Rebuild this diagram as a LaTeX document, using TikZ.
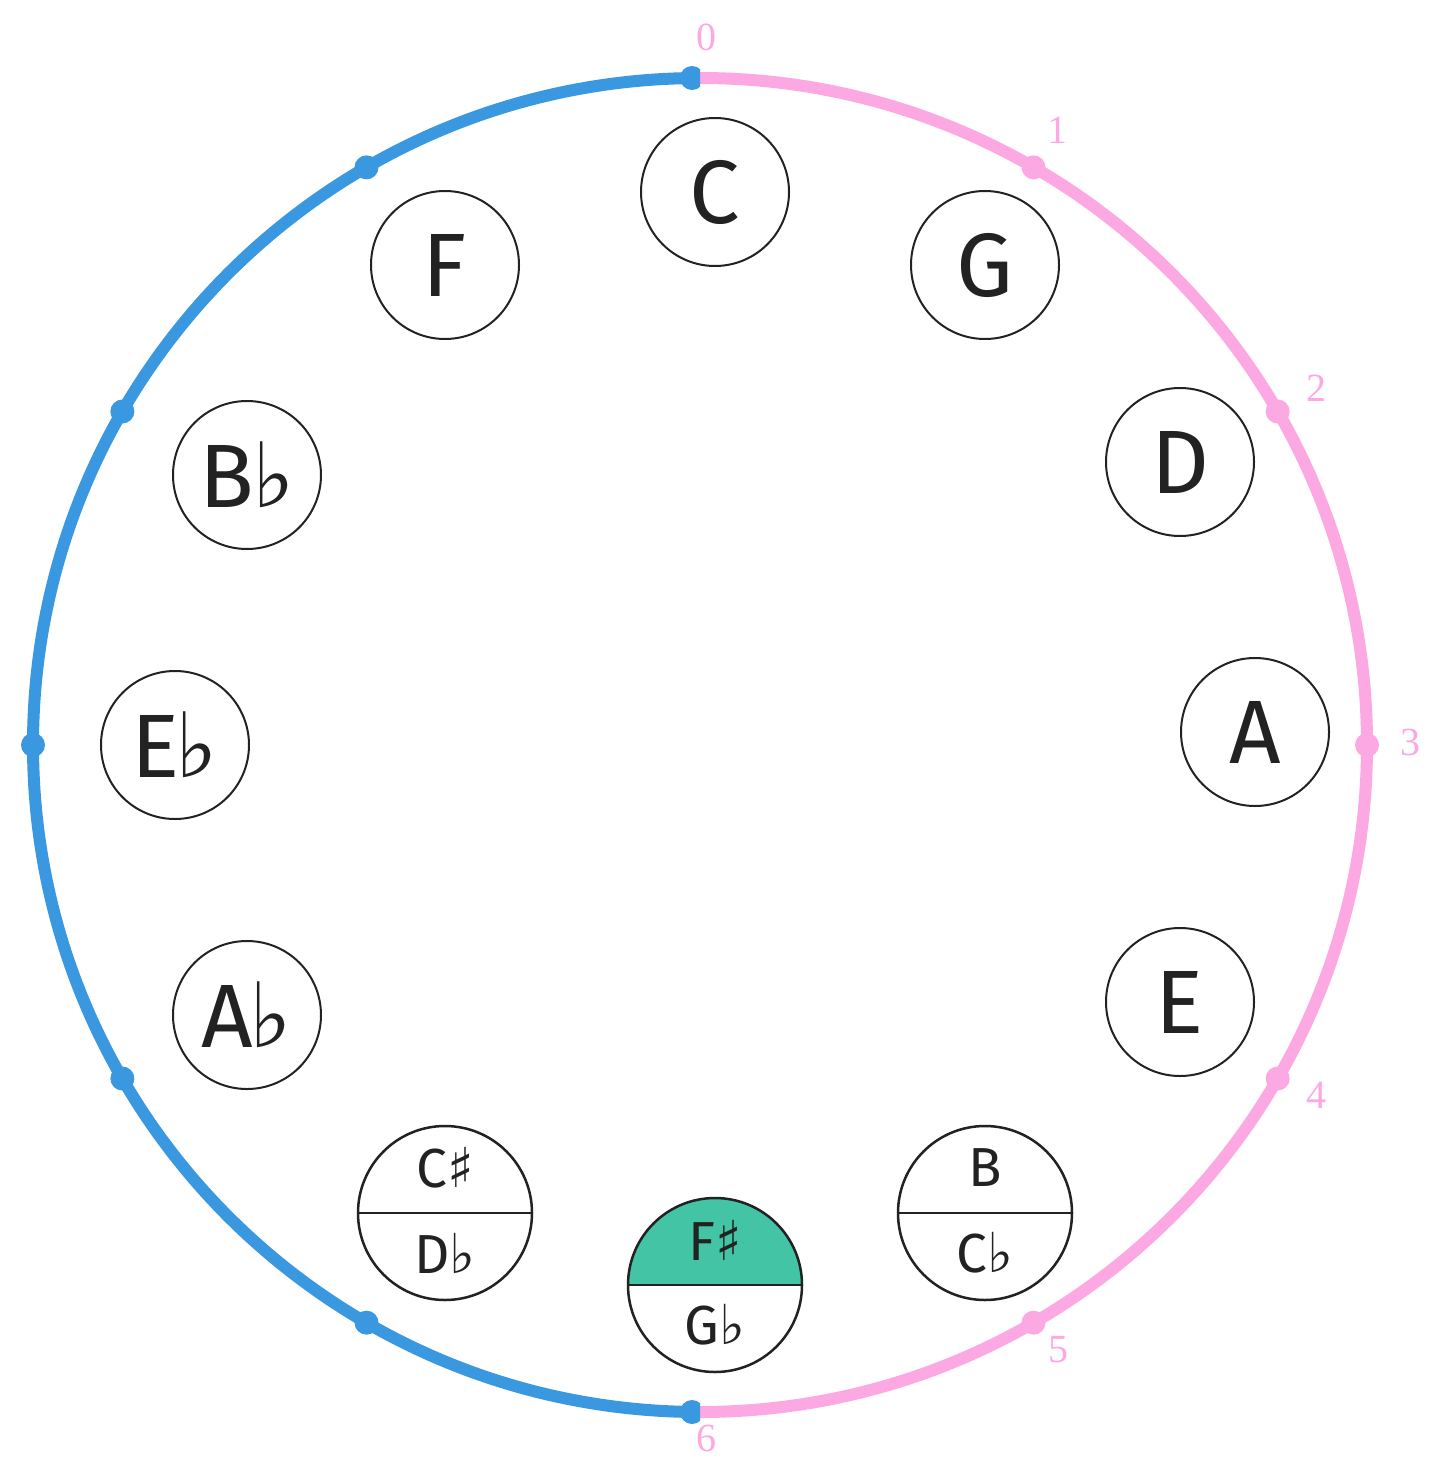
\documentclass[tikz,border=0pt]{standalone}
\usepackage{fontspec}
\newfontfamily\notef{Fira Sans}
\newfontfamily\symf{DejaVu Sans}
\newfontfamily\numf{Liberation Serif}
\newcommand{\fl}{{\symf ♭}}
\newcommand{\shp}{{\symf ♯}}
\definecolor{pk}{HTML}{FCA8E2}
\definecolor{bl}{HTML}{3A98E0}
\definecolor{tl}{HTML}{42C4A5}
\definecolor{ink}{HTML}{222222}
\begin{document}
\begin{tikzpicture}[x=1pt,y=-1pt,
  note/.style={circle,draw=ink,line width=2pt,minimum size=148pt,inner sep=0pt,font=\notef\fontsize{90}{90}\selectfont,text=ink},
  split/.style={circle,draw=ink,line width=2.5pt,minimum size=174pt,inner sep=0pt},
  half/.style={font=\notef\fontsize{55}{55}\selectfont,text=ink,inner sep=0pt},
  num/.style={text=pk,font=\numf\fontsize{40}{40}\selectfont,inner sep=0pt},
  dot/.style={circle,inner sep=0pt,minimum size=24pt}]
\useasboundingbox (0,0) rectangle (1428,1458);
\coordinate (O) at (700,745);
% arcs
\draw[bl,line width=12pt] (700,78) arc[start angle=-90,end angle=-270,radius=667];
\draw[pk,line width=12pt] (700,78) arc[start angle=-90,end angle=90,radius=667];
% dots
\foreach \k in {1,...,5}{
  \node[dot,fill=pk] (p\k) at ({700+667*sin(30*\k)},{745-667*cos(30*\k)}) {};
  \node[dot,fill=bl] (b\k) at ({700-667*sin(30*\k)},{745-667*cos(30*\k)}) {};}
\begin{scope}
\clip (600,0) rectangle (700,1458);
\node[dot,fill=bl] (b0) at (692,78) {};
\node[dot,fill=bl] (b6) at (692,1412) {};
\end{scope}
% numbers
\node[num] (n0) at (706,37) {0};
\node[num] (n1) at (1057,130) {1};
\node[num] (n2) at (1316,388) {2};
\node[num] (n3) at (1410,742) {3};
\node[num] (n4) at (1316,1095) {4};
\node[num] (n5) at (1058,1350) {5};
\node[num] (n6) at (706,1438) {6};
% notes
\node[note] (C) at (715,192) {C};
\node[note] (G) at (985,265) {G};
\node[note] (D) at (1180,462) {D};
\node[note] (A) at (1255,732) {A};
\node[note] (E) at (1180,1002) {E};
\node[note] (F) at (445,265) {F};
\node[note] (Bb) at (247,475) {B\hspace{-2pt}\fl};
\node[note] (Eb) at (175,745) {E\hspace{-4pt}\fl};
\node[note] (Ab) at (247,1015) {A\hspace{-4pt}\fl};
% split notes
\begin{scope}
\clip (715,1285) circle (87) ;
\fill[tl] (615,1185) rectangle (815,1285);
\end{scope}
\foreach \n/\x/\y/\t/\b in {Cs/445/1213/{C\shp}/{D\fl},Fs/715/1285/{F\shp}/{G\fl},B/985/1213/{B}/{C\fl}}{
  \node[split] (\n) at (\x,\y) {};
  \draw[ink,line width=2.5pt] (\n.west) -- (\n.east);
  \node[half] (\n t) at (\x,\y-45) {\t};
  \node[half] (\n b) at (\x,\y+40) {\b};}
\end{tikzpicture}
\end{document}
